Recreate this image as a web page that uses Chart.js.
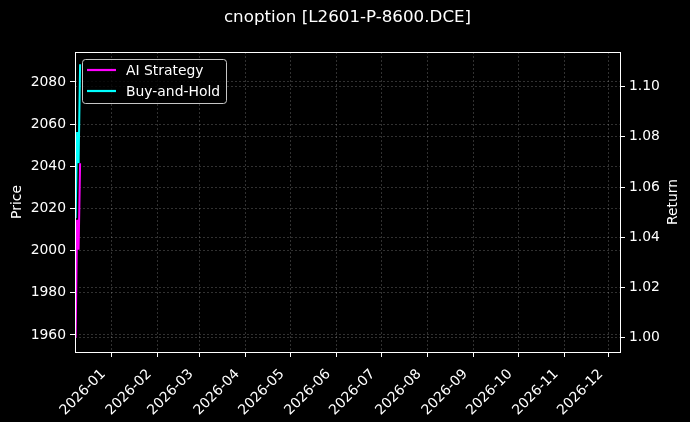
<!DOCTYPE html>
<html><head><meta charset="utf-8">
<script src="https://cdn.jsdelivr.net/npm/chart.js@4"></script>
<style>html,body{margin:0;padding:0;background:#000;}canvas{display:block}</style>
</head><body>
<canvas id="c" width="690" height="422"></canvas>
<script>
const titleText = 'cnoption [L2601-P-8600.DCE]';
const seriesNames = ['AI Strategy', 'Buy-and-Hold'];
const dates = ['2025-12-08', '2025-12-09', '2025-12-10', '2025-12-11'];
const aiStrategy = [1.000, 1.047, 1.035, 1.0695];
const buyAndHold = [2015.4, 2056.2, 2041.5, 2088.4];
const priceTicks = [1960, 1980, 2000, 2020, 2040, 2060, 2080];
const returnTicks = [1.00, 1.02, 1.04, 1.06, 1.08, 1.10];
const monthTicks = ['2026-01','2026-02','2026-03','2026-04','2026-05','2026-06','2026-07','2026-08','2026-09','2026-10','2026-11','2026-12'];

const toMs = s => { const p = s.split('-').map(Number); return Date.UTC(p[0], p[1]-1, p[2] || 1); };
const monthVals = monthTicks.map(toMs);
const FONT = "'DejaVu Sans', sans-serif";
const FS = 13.9;
const gridCol = 'rgba(255,255,255,0.28)';

const framePlugin = {
  id: 'frame',
  afterDraw(chart) {
    const {ctx, chartArea: a} = chart;
    ctx.save();
    ctx.strokeStyle = '#fff';
    ctx.lineWidth = 1;
    ctx.strokeRect(Math.round(a.left) + 0.5, Math.round(a.top) + 0.5, Math.round(a.right - a.left), Math.round(a.bottom - a.top));
    ctx.fillStyle = '#fff';
    ctx.textAlign = 'center';
    ctx.textBaseline = 'middle';
    ctx.font = '16.7px ' + FONT;
    ctx.fillText(titleText, (a.left + a.right) / 2, 18);
    ctx.font = FS + 'px ' + FONT;
    ctx.save();
    ctx.translate(17, (a.top + a.bottom) / 2);
    ctx.rotate(-Math.PI / 2);
    ctx.fillText('Price', 0, 0);
    ctx.restore();
    ctx.save();
    ctx.translate(673, (a.top + a.bottom) / 2);
    ctx.rotate(-Math.PI / 2);
    ctx.fillText('Return', 0, 0);
    ctx.restore();
    const lx = a.left + 7, ly = a.top + 7, lw = 144, lh = 44;
    ctx.beginPath();
    ctx.roundRect(lx + 0.5, ly + 0.5, lw, lh, 3);
    ctx.fillStyle = 'rgba(0,0,0,0.8)';
    ctx.fill();
    ctx.strokeStyle = 'rgba(220,220,220,0.9)';
    ctx.lineWidth = 1;
    ctx.stroke();
    ctx.textAlign = 'left';
    chart.data.datasets.forEach((ds, i) => {
      const yy = ly + 11 + i * 21;
      ctx.beginPath();
      ctx.moveTo(lx + 5, yy);
      ctx.lineTo(lx + 34, yy);
      ctx.strokeStyle = ds.borderColor;
      ctx.lineWidth = 2.2;
      ctx.stroke();
      ctx.fillStyle = '#fff';
      ctx.fillText(ds.label, lx + 44, yy + 1);
    });
    ctx.restore();
  }
};

new Chart(document.getElementById('c'), {
  type: 'line',
  data: {
    datasets: [
      { label: seriesNames[0], data: dates.map((d, i) => ({x: toMs(d), y: aiStrategy[i]})), yAxisID: 'y1',
        borderColor: '#ff00ff', backgroundColor: '#ff00ff', borderWidth: 2, pointRadius: 0, tension: 0 },
      { label: seriesNames[1], data: dates.map((d, i) => ({x: toMs(d), y: buyAndHold[i]})), yAxisID: 'y',
        borderColor: '#00ffff', backgroundColor: '#00ffff', borderWidth: 2, pointRadius: 0, tension: 0 }
    ]
  },
  options: {
    responsive: false,
    animation: false,
    devicePixelRatio: 1,
    layout: { padding: { top: 52, left: 0, right: 0, bottom: 0 } },
    plugins: { legend: { display: false }, title: { display: false }, tooltip: { enabled: false } },
    scales: {
      x: {
        type: 'linear',
        min: Date.UTC(2025, 11, 7, 14),
        max: Date.UTC(2026, 11, 8, 10),
        afterBuildTicks: s => { s.ticks = monthVals.map(v => ({value: v})); },
        afterFit: s => { s.height = 70; },
        ticks: {
          color: '#fff', font: { family: FONT, size: FS }, padding: 9, labelOffset: -8,
          minRotation: 45, maxRotation: 45, autoSkip: false,
          callback: v => { const i = monthVals.indexOf(v); return i >= 0 ? monthTicks[i] : ''; }
        },
        grid: { color: gridCol, lineWidth: 0.7, tickLength: 5, tickColor: '#fff', tickWidth: 1 },
        border: { display: false, dash: [2, 2] }
      },
      y: {
        position: 'left',
        min: 1951.9, max: 2094.2,
        afterBuildTicks: s => { s.ticks = priceTicks.map(v => ({value: v})); },
        afterFit: s => { s.width = 75; },
        ticks: { color: '#fff', font: { family: FONT, size: FS }, padding: 4, callback: v => String(v) },
        grid: { color: gridCol, lineWidth: 0.7, tickLength: 5, tickColor: '#fff', tickWidth: 1 },
        border: { display: false, dash: [2, 2] }
      },
      y1: {
        position: 'right',
        min: 0.9943, max: 1.1138,
        afterBuildTicks: s => { s.ticks = returnTicks.map(v => ({value: v})); },
        afterFit: s => { s.width = 70; },
        ticks: { color: '#fff', font: { family: FONT, size: FS }, padding: 4, callback: v => v.toFixed(2) },
        grid: { color: gridCol, lineWidth: 0.7, tickLength: 5, tickColor: '#fff', tickWidth: 1 },
        border: { display: false, dash: [2, 2] }
      }
    }
  },
  plugins: [framePlugin]
});
</script>
</body></html>
